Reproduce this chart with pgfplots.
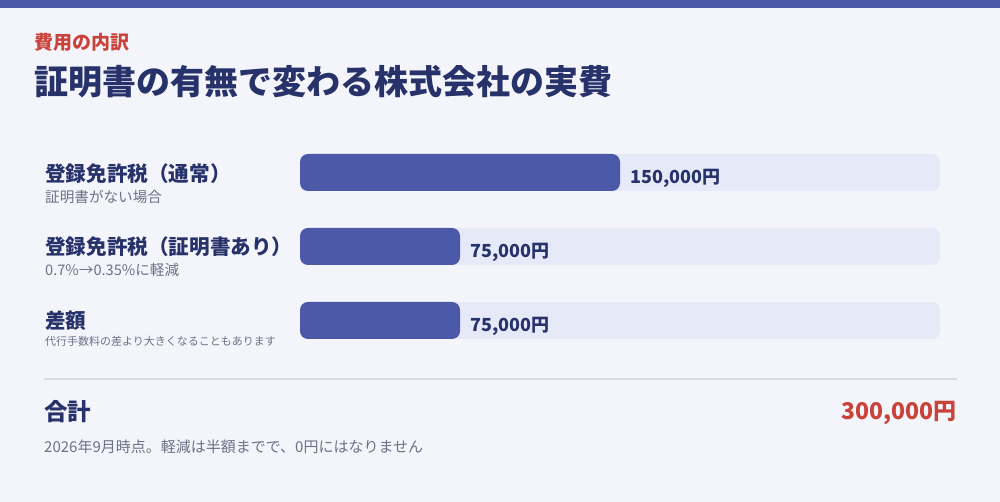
\documentclass[border=0pt]{standalone}
\usepackage{pgfplots}
\pgfplotsset{compat=1.18}
\usepackage{fontspec}
\setmainfont{Noto Sans CJK JP}
\definecolor{bg}{HTML}{F4F5FB}
\definecolor{stripe}{HTML}{4B59A8}
\definecolor{barc}{HTML}{4B59A8}
\definecolor{track}{HTML}{E6EAF8}
\definecolor{navy}{HTML}{27326A}
\definecolor{redc}{HTML}{C9433A}
\definecolor{grayt}{HTML}{6B7186}
\definecolor{rulec}{HTML}{D6DDE6}
\newcommand{\fs}[1]{\fontsize{#1}{#1}\selectfont}
\begin{document}
\begin{tikzpicture}[x=1pt,y=1pt]
\fill[bg] (0,0) rectangle (1000,502);
\fill[stripe] (0,494) rectangle (1000,502);
\node[anchor=west,inner sep=0,text=redc,font=\fs{19}\bfseries] at (34,460) {費用の内訳};
\node[anchor=west,inner sep=0,text=navy,font=\fs{34}\bfseries] at (34,420) {証明書の有無で変わる株式会社の実費};
% row labels
\node[anchor=west,inner sep=0,text=navy,font=\fs{20.6}\bfseries] at (45,328.5) {登録免許税（通常）};
\node[anchor=west,inner sep=0,text=grayt,font=\fs{14.6}] at (45,305.5) {証明書がない場合};
\node[anchor=west,inner sep=0,text=navy,font=\fs{20.6}\bfseries] at (45,255.5) {登録免許税（証明書あり）};
\node[anchor=west,inner sep=0,text=grayt,font=\fs{14.6}] at (45,232) {0.7\%→0.35\%に軽減};
\node[anchor=west,inner sep=0,text=navy,font=\fs{20.6}\bfseries] at (45,181) {差額};
\node[anchor=west,inner sep=0,text=grayt,font=\fs{11}] at (45,161) {代行手数料の差より大きくなることもあります};
% divider and total
\draw[rulec,line width=1.5pt] (44,123) -- (957,123);
\node[anchor=west,inner sep=0,text=navy,font=\fs{23.5}\bfseries] at (44,90) {合計};
\node[anchor=east,inner sep=0,text=redc,font=\fs{23}\bfseries] at (957,89) {300,000円};
\node[anchor=west,inner sep=0,text=grayt,font=\fs{15}] at (44,55.5) {2026年9月時点。軽減は半額までで、0円にはなりません};
\begin{axis}[at={(300pt,144.5pt)}, anchor=south west, scale only axis,
  width=640pt, height=222pt, xmin=0, xmax=300000, ymin=0.5, ymax=3.5,
  hide axis, clip=false]
\addplot[xbar, bar width=37pt, bar shift=0pt, fill=track, draw=none, rounded corners=8pt]
  coordinates {(300000,3) (300000,2) (300000,1)};
\addplot[xbar, bar width=37pt, bar shift=0pt, fill=barc, draw=none, rounded corners=8pt,
  point meta=x,
  nodes near coords={\pgfmathprintnumber[fixed,precision=0,1000 sep={,},assume math mode=true]{\pgfplotspointmeta}円},
  every node near coord/.append style={anchor=west, inner sep=0pt, xshift=10pt, yshift=-5.5pt,
    text=navy, font=\fs{18}\bfseries, rounded corners=0pt}]
  coordinates {(150000,3) (75000,2) (75000,1)};
\end{axis}
\end{tikzpicture}
\end{document}
